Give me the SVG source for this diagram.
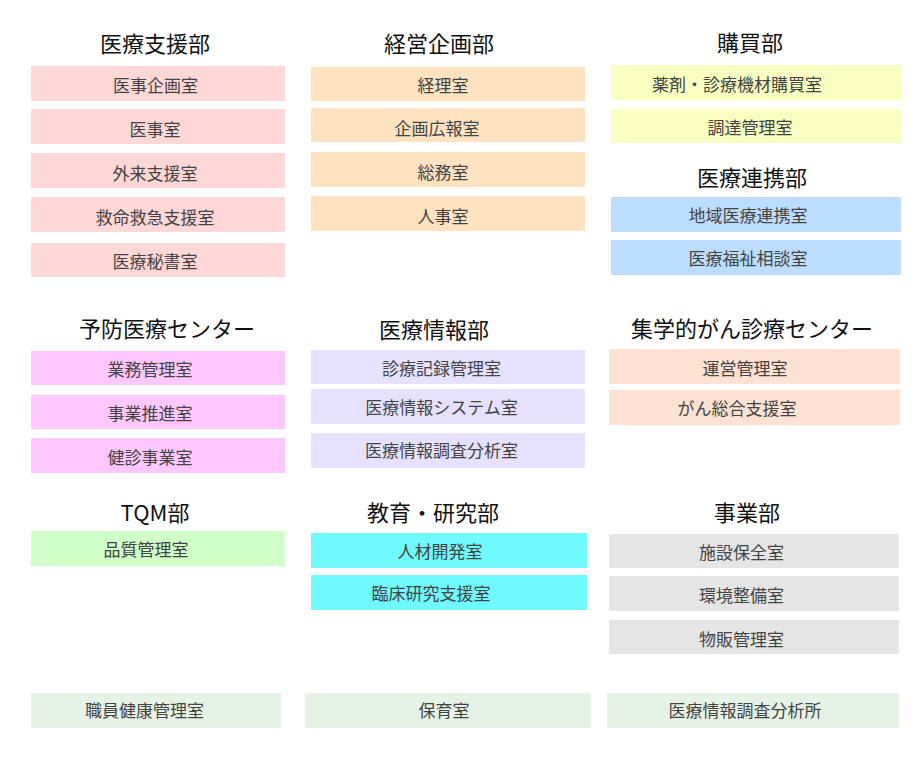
<svg xmlns="http://www.w3.org/2000/svg" width="920" height="768" viewBox="0 0 920 768">
<style>
text{font-family:"Noto Sans CJK JP","Noto Sans",sans-serif;text-anchor:middle}
.h{font-size:22px;fill:#111}
.t{font-size:17px;fill:#444}
.pk rect{fill:#FFD7D7}.or rect{fill:#FFE3C1}.yl rect{fill:#F8FFC0}.bl rect{fill:#BCDDFF}
.mg rect{fill:#FFC6FF}.lv rect{fill:#E5E1FF}.pc rect{fill:#FFE2D1}.gn rect{fill:#D0FFC8}
.cy rect{fill:#6EFAFF}.gy rect{fill:#E5E5E5}.bt rect{fill:#E6F2E6}
</style>
<rect width="920" height="768" fill="#fff"/>
<g id="dept-iryoshien" class="pk">
<text class="h" x="155" y="52">医療支援部</text>
<g id="ijikikaku"><rect x="31" y="66" width="254" height="35"/><text class="t" x="155.5" y="92">医事企画室</text></g>
<g id="iji"><rect x="31" y="109" width="254" height="35"/><text class="t" x="155" y="136">医事室</text></g>
<g id="gairai"><rect x="31" y="153" width="254" height="35"/><text class="t" x="155" y="180">外来支援室</text></g>
<g id="kyumei"><rect x="31" y="197" width="254" height="35"/><text class="t" x="155" y="224">救命救急支援室</text></g>
<g id="hisho"><rect x="31" y="243" width="254" height="34"/><text class="t" x="155" y="268">医療秘書室</text></g>
</g>
<g id="dept-keiei" class="or">
<text class="h" x="439" y="52">経営企画部</text>
<g id="keiri"><rect x="311" y="67" width="274" height="34"/><text class="t" x="443" y="92">経理室</text></g>
<g id="kikakukoho"><rect x="311" y="108" width="274" height="34"/><text class="t" x="437" y="135">企画広報室</text></g>
<g id="somu"><rect x="311" y="152" width="274" height="35"/><text class="t" x="443" y="179">総務室</text></g>
<g id="jinji"><rect x="311" y="196" width="274" height="35"/><text class="t" x="443" y="223">人事室</text></g>
</g>
<g id="dept-kobai" class="yl">
<text class="h" x="750" y="51">購買部</text>
<g id="yakuzai"><rect x="611" y="65" width="290" height="35"/><text class="t" x="737" y="91">薬剤・診療機材購買室</text></g>
<g id="chotatsu"><rect x="611" y="109" width="290" height="34"/><text class="t" x="750" y="134">調達管理室</text></g>
</g>
<g id="dept-renkei" class="bl">
<text class="h" x="752" y="186">医療連携部</text>
<g id="chiiki"><rect x="611" y="197" width="290" height="35"/><text class="t" x="748" y="222">地域医療連携室</text></g>
<g id="fukushi"><rect x="611" y="240" width="290" height="35"/><text class="t" x="748" y="265">医療福祉相談室</text></g>
</g>
<g id="dept-yobo" class="mg">
<text class="h" x="167" y="337">予防医療センター</text>
<g id="gyomu"><rect x="31" y="351" width="254" height="34"/><text class="t" x="150" y="376">業務管理室</text></g>
<g id="jigyosuishin"><rect x="31" y="395" width="254" height="34"/><text class="t" x="150" y="420">事業推進室</text></g>
<g id="kenshin"><rect x="31" y="438" width="254" height="35"/><text class="t" x="150" y="464">健診事業室</text></g>
</g>
<g id="dept-joho" class="lv">
<text class="h" x="434" y="338">医療情報部</text>
<g id="shinryokiroku"><rect x="311" y="350" width="274" height="34"/><text class="t" x="441.5" y="375">診療記録管理室</text></g>
<g id="system"><rect x="311" y="389" width="274" height="35"/><text class="t" x="441.5" y="414">医療情報システム室</text></g>
<g id="chosabunseki"><rect x="311" y="433" width="274" height="35"/><text class="t" x="441.5" y="457">医療情報調査分析室</text></g>
</g>
<g id="dept-gan" class="pc">
<text class="h" x="752" y="337">集学的がん診療センター</text>
<g id="uneikanri"><rect x="609" y="349" width="291" height="35"/><text class="t" x="745" y="375">運営管理室</text></g>
<g id="gansogo"><rect x="609" y="390" width="291" height="35"/><text class="t" x="737" y="415">がん総合支援室</text></g>
</g>
<g id="dept-tqm" class="gn">
<text class="h" x="155" y="521">TQM部</text>
<g id="hinshitsu"><rect x="31" y="531" width="254" height="35"/><text class="t" x="146" y="556">品質管理室</text></g>
</g>
<g id="dept-kyoiku" class="cy">
<text class="h" x="433" y="521">教育・研究部</text>
<g id="jinzai"><rect x="311" y="533" width="276" height="35"/><text class="t" x="440" y="558">人材開発室</text></g>
<g id="rinsho"><rect x="311" y="575" width="276" height="35"/><text class="t" x="431" y="600">臨床研究支援室</text></g>
</g>
<g id="dept-jigyo" class="gy">
<text class="h" x="747" y="521">事業部</text>
<g id="shisetsu"><rect x="609" y="534" width="290" height="34"/><text class="t" x="741.5" y="559">施設保全室</text></g>
<g id="kankyo"><rect x="609" y="576" width="290" height="35"/><text class="t" x="741.5" y="602">環境整備室</text></g>
<g id="buppan"><rect x="609" y="620" width="290" height="34"/><text class="t" x="741.5" y="646">物販管理室</text></g>
</g>
<g id="independent" class="bt">
<g id="shokuin"><rect x="31" y="693" width="250" height="35"/><text class="t" x="144.5" y="717">職員健康管理室</text></g>
<g id="hoiku"><rect x="305" y="693" width="286" height="35"/><text class="t" x="444" y="717">保育室</text></g>
<g id="bunsekijo"><rect x="607" y="693" width="292" height="35"/><text class="t" x="745" y="717">医療情報調査分析所</text></g>
</g>
<g id="connectors"/>
</svg>
